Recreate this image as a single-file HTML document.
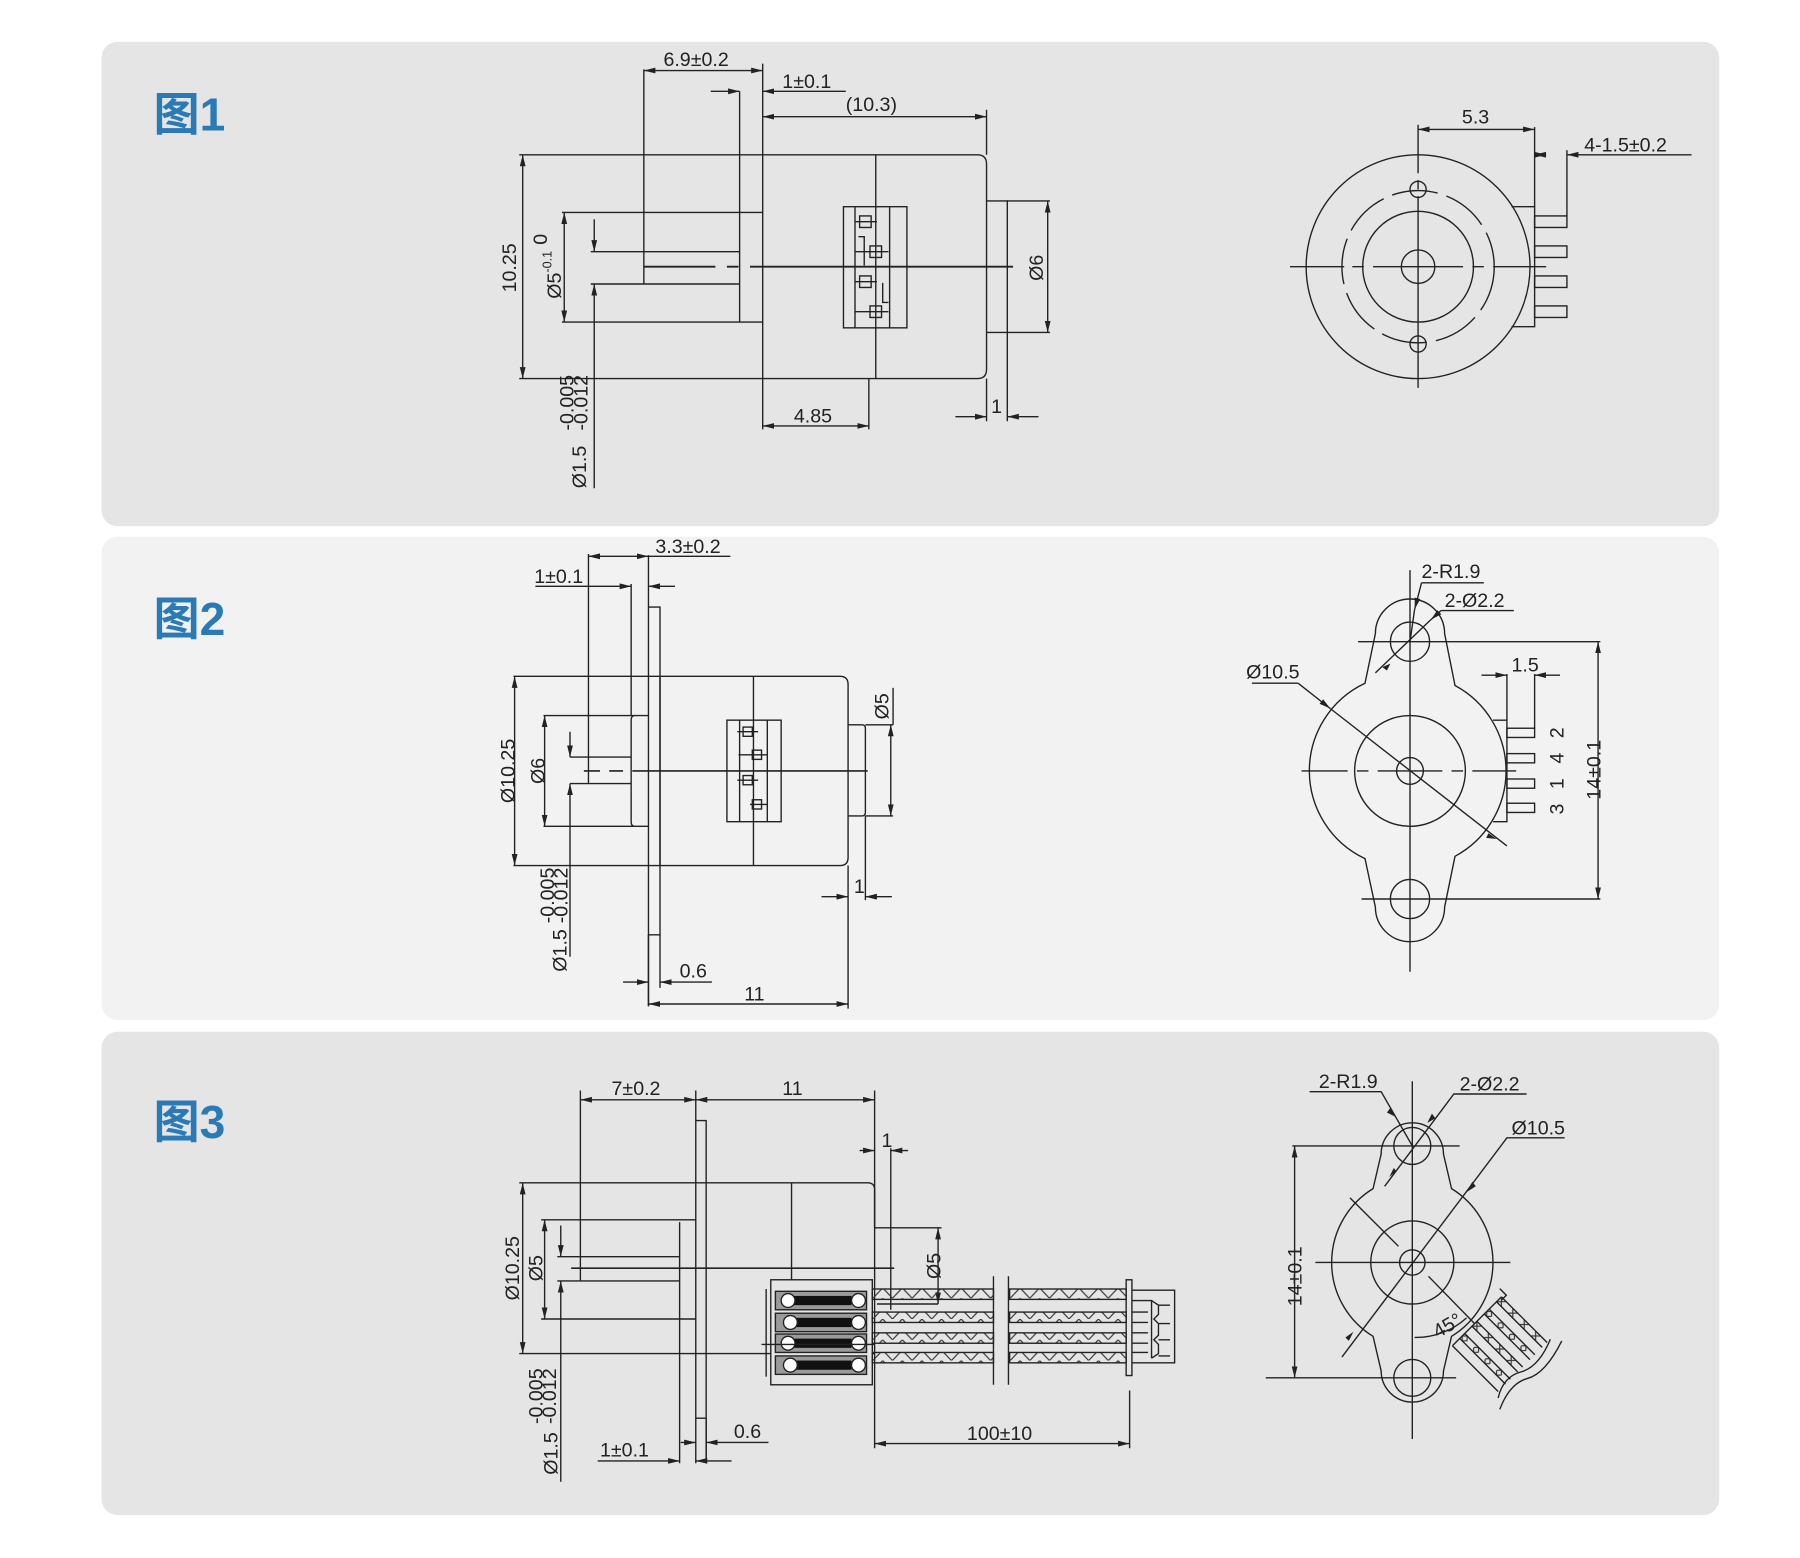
<!DOCTYPE html>
<html><head><meta charset="utf-8"><style>
html,body{margin:0;padding:0;background:#fff;}
svg{display:block;}
text{font-family:"Liberation Sans","Noto Sans CJK SC",sans-serif;fill:#222;font-size:17px;}
.b{font-family:"Liberation Sans","Noto Sans CJK SC",sans-serif;font-weight:bold;fill:#2a7ab8;font-size:40px;}
</style></head><body>
<svg width="1800" height="1558" viewBox="0 0 1560 1350" xmlns="http://www.w3.org/2000/svg">
<defs>
<marker id="a" markerWidth="10" markerHeight="6" refX="10" refY="3" orient="auto-start-reverse" markerUnits="userSpaceOnUse"><path d="M0,0.5 L10,3 L0,5.5 z" fill="#222"/></marker>
<pattern id="zz" width="17" height="9" patternUnits="userSpaceOnUse"><path d="M0,0 L8.5,9 L17,0" fill="none" stroke="#333" stroke-width="1"/></pattern>
<pattern id="zx" width="14" height="6" patternUnits="userSpaceOnUse"><path d="M0,0 L6,6 M0,6 L6,0" stroke="#333" stroke-width="1"/></pattern>
</defs>
<rect x="0" y="0" width="1560" height="1350" fill="#fff"/>
<rect x="88" y="36" width="1402" height="420" rx="14" fill="#e5e5e5"/>
<rect x="88" y="465" width="1402" height="419" rx="14" fill="#f2f2f2"/>
<rect x="88" y="894" width="1402" height="419" rx="14" fill="#e5e5e5"/>
<text class="b" x="133" y="113">图1</text>
<text class="b" x="133" y="550">图2</text>
<text class="b" x="133" y="986">图3</text>

<g stroke="#222" stroke-width="1.2" fill="none">
<!-- ===== FIG 1 side ===== -->
<path d="M450,134 H661 M450,328 H661"/>
<line x1="453" y1="134" x2="453" y2="328" marker-start="url(#a)" marker-end="url(#a)"/>
<path d="M487,184 H661 M487,279 H661"/>
<line x1="489" y1="184" x2="489" y2="279" marker-start="url(#a)" marker-end="url(#a)"/>
<path d="M512,218 H641 M512,246 H641"/>
<line x1="515" y1="190" x2="515" y2="218" marker-end="url(#a)"/>
<line x1="515" y1="423" x2="515" y2="246" marker-end="url(#a)"/>
<path d="M558,60 V246"/>
<path d="M641,79 V279"/>
<path d="M661,55 V372"/>
<path d="M661,134 H847 Q855,134 855,142 V320 Q855,328 847,328 H661"/>
<path d="M759,134 V328"/>
<rect x="731" y="179" width="55" height="105"/>
<path d="M741,179 V284 M771,179 V284"/>
<rect x="745" y="187" width="10" height="10"/><rect x="754" y="213" width="10" height="10"/>
<rect x="745" y="239" width="10" height="10"/><rect x="754" y="265" width="10" height="10"/>
<path d="M741,192 H760 M741,218 H770 M741,244 H760 M741,270 H770 M744,205 H749 V230 M765,245 V262 H770"/>
<path d="M855,174 H873 V288 H855"/>
<path d="M873,174 H910 M873,288 H910"/>
<line x1="908" y1="174" x2="908" y2="288" marker-start="url(#a)" marker-end="url(#a)"/>
<path d="M558,231 H620 M630,231 H640 M650,231 H878" stroke-width="1.6"/>
<line x1="558" y1="61" x2="661" y2="61" marker-start="url(#a)" marker-end="url(#a)"/>
<line x1="616" y1="79" x2="641" y2="79" marker-end="url(#a)"/>
<line x1="733" y1="79" x2="661" y2="79" marker-end="url(#a)"/>
<line x1="661" y1="101" x2="855" y2="101" marker-start="url(#a)" marker-end="url(#a)"/>
<path d="M855,95 V134"/>
<line x1="661" y1="369" x2="753" y2="369" marker-start="url(#a)" marker-end="url(#a)"/>
<path d="M753,328 V372"/>
<line x1="828" y1="361" x2="855" y2="361" marker-end="url(#a)"/>
<line x1="900" y1="361" x2="873" y2="361" marker-end="url(#a)"/>
<path d="M855,328 V365 M873,288 V365"/>

<!-- ===== FIG 1 front ===== -->
<circle cx="1229" cy="231" r="97"/>
<circle cx="1229" cy="231" r="66" stroke-dasharray="40 8"/>
<circle cx="1229" cy="231" r="48"/>
<circle cx="1229" cy="231" r="14.5"/>
<circle cx="1229" cy="164" r="7"/>
<circle cx="1229" cy="298" r="7"/>
<path d="M1118,231 H1165 M1172,231 H1182 M1190,231 H1268 M1276,231 H1286 M1294,231 H1340" />
<path d="M1229,108 V150 M1229,156 V164 M1229,170 V336"/>
<path d="M1310,179 H1330 V283 H1310"/>
<path d="M1330,110 V179"/>
<rect x="1330" y="187" width="28" height="10"/><rect x="1330" y="213" width="28" height="10"/>
<rect x="1330" y="239" width="28" height="10"/><rect x="1330" y="265" width="28" height="10"/>
<path d="M1358,130 V187"/>
<line x1="1229" y1="112" x2="1330" y2="112" marker-start="url(#a)" marker-end="url(#a)"/>
<line x1="1466" y1="134" x2="1358" y2="134" marker-end="url(#a)"/>
<line x1="1340" y1="134" x2="1330" y2="134" marker-start="url(#a)" marker-end="url(#a)" />

<!-- ===== FIG 2 side ===== -->
<path d="M445,586 H572 M445,750 H572"/>
<line x1="446" y1="586" x2="446" y2="750" marker-start="url(#a)" marker-end="url(#a)"/>
<path d="M471,620 H562 M471,716 H562"/>
<line x1="472" y1="620" x2="472" y2="716" marker-start="url(#a)" marker-end="url(#a)"/>
<path d="M494,656 H547 M494,679 H547"/>
<line x1="494" y1="634" x2="494" y2="656" marker-end="url(#a)"/>
<line x1="494" y1="829" x2="494" y2="679" marker-end="url(#a)"/>
<path d="M510,480 V679 M510,656 V679"/>
<path d="M550,620 Q547,620 547,624 V712 Q547,716 550,716 M547,506 V620"/>
<path d="M562,481 V872"/>
<path d="M562,526 H572 V810 H562 M562,810 V872"/>
<path d="M572,586 H728 Q735,586 735,593 V743 Q735,750 728,750 H572 Z"/>
<path d="M653,586 V750"/>
<rect x="630" y="624" width="47" height="88"/>
<path d="M641,624 V712 M665,624 V712"/>
<rect x="644" y="630" width="8" height="8"/><rect x="652" y="650" width="8" height="8"/>
<rect x="644" y="672" width="8" height="8"/><rect x="652" y="693" width="8" height="8"/>
<path d="M639,634 H657 M640,654 H665 M639,676 H657 M650,697 H665"/>
<path d="M735,628 H747 Q750,628 750,631 V704 Q750,707 747,707 H735"/>
<path d="M750,628 H774 M750,707 H774"/>
<line x1="772" y1="628" x2="772" y2="707" marker-start="url(#a)" marker-end="url(#a)"/>
<path d="M774,596 V628"/>
<path d="M506,668 H520 M528,668 H540 M548,668 H752" stroke-width="1.4"/>
<line x1="510" y1="482" x2="562" y2="482" marker-start="url(#a)" marker-end="url(#a)"/>
<path d="M562,482 H633"/>
<line x1="464" y1="508" x2="547" y2="508" marker-end="url(#a)"/>
<line x1="585" y1="508" x2="562" y2="508" marker-end="url(#a)"/>
<line x1="540" y1="851" x2="562" y2="851" marker-end="url(#a)"/>
<line x1="617" y1="851" x2="572" y2="851" marker-end="url(#a)"/>
<path d="M572,810 V856"/>
<line x1="562" y1="870" x2="735" y2="870" marker-start="url(#a)" marker-end="url(#a)"/>
<path d="M735,750 V874 M750,707 V780"/>
<line x1="712" y1="777" x2="735" y2="777" marker-end="url(#a)"/>
<line x1="773" y1="777" x2="750" y2="777" marker-end="url(#a)"/>

<!-- ===== FIG 2 front ===== -->
<path d="M1183,592 L1192,549 A30,30 0 1 1 1252,549 L1261,594 A84,84 0 0 1 1261,742 L1252,786 A30,30 0 1 1 1192,786 L1183,744 A84,84 0 0 1 1183,592 Z"/>
<circle cx="1222" cy="668" r="48"/>
<circle cx="1222" cy="668" r="11.6"/>
<circle cx="1222" cy="556" r="17"/>
<circle cx="1222" cy="779" r="17"/>
<path d="M1128,668 H1168 M1176,668 H1186 M1194,668 H1250 M1258,668 H1268 M1276,668 H1314"/>
<path d="M1222,494 V842"/>
<path d="M1177,556 H1387 M1180,779 H1387"/>
<line x1="1385" y1="556" x2="1385" y2="779" marker-start="url(#a)" marker-end="url(#a)"/>
<path d="M1294,624 H1306 V712 H1294"/>
<rect x="1306" y="631" width="24" height="8"/><rect x="1306" y="653" width="24" height="8"/>
<rect x="1306" y="675" width="24" height="8"/><rect x="1306" y="696" width="24" height="8"/>
<path d="M1306,584 V624 M1330,584 V631"/>
<line x1="1284" y1="585" x2="1306" y2="585" marker-end="url(#a)"/>
<line x1="1352" y1="585" x2="1330" y2="585" marker-end="url(#a)"/>
<path d="M1085,592 H1125"/>
<line x1="1125" y1="592" x2="1153" y2="614" marker-end="url(#a)"/>
<line x1="1153" y1="614" x2="1306" y2="733"/>
<path d="M1290,722 l7,5 l-9,-1" fill="#222" stroke="none"/>
<path d="M1232,505 H1286"/>
<line x1="1232" y1="505" x2="1226" y2="528" marker-end="url(#a)"/>
<line x1="1226" y1="528" x2="1222" y2="556"/>
<path d="M1249,529 H1312"/>
<line x1="1249" y1="529" x2="1240" y2="537" marker-end="url(#a)"/>
<line x1="1240" y1="537" x2="1192" y2="583"/>
<path d="M1198,578 l7,-3 l-3,6" fill="#222" stroke="none"/>

<!-- ===== FIG 3 side ===== -->
<line x1="503" y1="953" x2="603" y2="953" marker-start="url(#a)" marker-end="url(#a)"/>
<line x1="603" y1="953" x2="758" y2="953" marker-start="url(#a)" marker-end="url(#a)"/>
<path d="M503,945 V1110 M603,945 V1268 M758,945 V1064"/>
<path d="M603,971 H612 V1265 M603,1229 H612"/>
<path d="M450,1025 H612 M450,1173 H612"/>
<line x1="453" y1="1025" x2="453" y2="1173" marker-start="url(#a)" marker-end="url(#a)"/>
<path d="M469,1057 H603 M469,1143 H603"/>
<line x1="472" y1="1057" x2="472" y2="1143" marker-start="url(#a)" marker-end="url(#a)"/>
<path d="M589,1059 V1268"/>
<path d="M483,1089 H589 M483,1110 H589"/>
<line x1="486" y1="1062" x2="486" y2="1089" marker-end="url(#a)"/>
<line x1="486" y1="1284" x2="486" y2="1110" marker-end="url(#a)"/>
<path d="M612,1025 H752 Q758,1025 758,1031 V1173 H612"/>
<path d="M686,1025 V1110"/>
<path d="M758,1064 H772 V1135 M772,995 V1135 M772,1064 H816"/>
<line x1="813" y1="1064" x2="813" y2="1130" marker-start="url(#a)" marker-end="url(#a)"/>
<path d="M813,1130 H760"/>
<path d="M495,1099 H775" stroke-width="1.4"/>
<line x1="745" y1="997" x2="758" y2="997" marker-end="url(#a)"/>
<line x1="787" y1="997" x2="772" y2="997" marker-end="url(#a)"/>
<!-- terminal block -->
<rect x="668" y="1109" width="88" height="91" fill="#e5e5e5"/>
<path d="M664,1117 V1193"/>
<g stroke="#222">
<rect x="672" y="1119" width="79" height="16" fill="#9a9a9a"/>
<rect x="672" y="1138" width="79" height="16" fill="#9a9a9a"/>
<rect x="672" y="1156" width="79" height="16" fill="#9a9a9a"/>
<rect x="672" y="1175" width="79" height="16" fill="#9a9a9a"/>
</g>
<g fill="#111" stroke="none">
<rect x="686" y="1123" width="52" height="8"/><rect x="686" y="1142" width="52" height="8"/>
<rect x="686" y="1160" width="52" height="8"/><rect x="686" y="1179" width="52" height="8"/>
</g>
<g fill="#fff">
<circle cx="683" cy="1127" r="6"/><circle cx="744" cy="1127" r="6"/>
<circle cx="685" cy="1146" r="6"/><circle cx="744" cy="1146" r="6"/>
<circle cx="683" cy="1164" r="6"/><circle cx="744" cy="1164" r="6"/>
<circle cx="685" cy="1183" r="6"/><circle cx="744" cy="1183" r="6"/>
</g>
<path d="M660,1165 H758"/>
<!-- wires -->
<g>
<rect x="756" y="1117" width="105" height="9" fill="url(#zz)"/>
<rect x="756" y="1137" width="105" height="9" fill="url(#zz)"/>
<rect x="756" y="1155" width="105" height="9" fill="url(#zz)"/>
<rect x="756" y="1172" width="105" height="9" fill="url(#zz)"/>
<rect x="875" y="1117" width="101" height="9" fill="url(#zz)"/>
<rect x="875" y="1137" width="101" height="9" fill="url(#zz)"/>
<rect x="875" y="1155" width="101" height="9" fill="url(#zz)"/>
<rect x="875" y="1172" width="101" height="9" fill="url(#zz)"/>
</g>
<path d="M861,1106 V1200 M874,1106 V1200"/>
<rect x="976" y="1109" width="5" height="83"/>
<path d="M981,1118 H1018 V1181 H981 M981,1127 H998 V1177 M981,1137 H995 M981,1146 H995 M981,1155 H995 M981,1164 H995 M981,1172 H995 M998,1127 l6,4 v8 l-4,4 l4,4 v10 l-4,4 l4,4 v8 l-6,4"/>
<path d="M1004,1131 H1014 M1004,1147 H1014 M1004,1161 H1014 M1004,1175 H1014"/>
<path d="M758,1173 V1255 M979,1205 V1255"/>
<line x1="758" y1="1251" x2="979" y2="1251" marker-start="url(#a)" marker-end="url(#a)"/>
<line x1="590" y1="1250" x2="603" y2="1250" marker-end="url(#a)"/>
<line x1="666" y1="1250" x2="612" y2="1250" marker-end="url(#a)"/>
<path d="M612,1229 V1268"/>
<line x1="518" y1="1266" x2="589" y2="1266" marker-end="url(#a)"/>
<line x1="634" y1="1266" x2="603" y2="1266" marker-end="url(#a)"/>

<!-- ===== FIG 3 front ===== -->
<path d="M1190,1030 L1197,1000 A27,27 0 1 1 1251,1000 L1258,1030 A75,75 0 0 1 1258,1158 L1251,1188 A27,27 0 1 1 1197,1188 L1190,1158 A75,75 0 0 1 1190,1030 Z"/>
<circle cx="1224" cy="1094" r="36"/>
<circle cx="1224" cy="1094" r="11"/>
<circle cx="1224" cy="993" r="16"/>
<circle cx="1224" cy="1194" r="16"/>
<path d="M1140,1094 H1309 M1224,937 V1247 M1185,993 H1265 M1120,993 H1185 M1097,1194 H1262"/>
<line x1="1122" y1="993" x2="1122" y2="1194" marker-start="url(#a)" marker-end="url(#a)"/>
<path d="M1135,946 H1197 L1224,993"/>
<path d="M1205,960 l5,8 l-8,-4" fill="#222" stroke="none"/>
<path d="M1323,948 H1260 L1200,1028"/>
<path d="M1241,965 l-4,8 l7,-4 z M1210,1015 l-6,5 l4,-8 z" fill="#222" stroke="none"/>
<path d="M1356,986 H1306 L1163,1176"/>
<path d="M1276,1024 l-5,9 l8,-5 z M1169,1162 l4,-8 l-7,5 z" fill="#222" stroke="none"/>
<path d="M1170,1038 L1212,1080 M1238,1106 L1278,1147"/>
<path d="M1226,1159 A65,65 0 0 0 1271,1142"/>
<!-- wire bundle -->
<g transform="translate(1280,1145) rotate(45)">
<rect x="0" y="-30" width="56" height="60" fill="#e5e5e5" stroke="none"/>
<rect x="0" y="-30" width="56" height="6" fill="url(#zx)" stroke="none"/>
<rect x="0" y="-15" width="56" height="6" fill="url(#zx)" stroke="none"/>
<rect x="0" y="0" width="56" height="6" fill="url(#zx)" stroke="none"/>
<rect x="0" y="15" width="56" height="6" fill="url(#zx)" stroke="none"/>
<path d="M0,-30 V30 M0,-30 H56 M0,-24 H56 M0,-15 H56 M0,-9 H56 M0,0 H56 M0,6 H56 M0,15 H56 M0,21 H56 M0,30 H56"/>
<path d="M-6,-34 L2,-34 L2,-28"/>
<path d="M56,-34 Q66,-10 58,4 Q50,18 60,34 M64,-40 Q74,-10 66,4 Q58,18 68,40"/>
</g>
</g>

<!-- ===== TEXT ===== -->
<text x="575" y="57">6.9±0.2</text>
<text x="678" y="76">1±0.1</text>
<text x="733" y="96">(10.3)</text>
<text x="688" y="366">4.85</text>
<text x="859" y="358">1</text>
<text x="1267" y="107">5.3</text>
<text x="1373" y="131">4-1.5±0.2</text>
<text transform="translate(447,232) rotate(-90)" text-anchor="middle">10.25</text>
<text transform="translate(486,238) rotate(-90)" text-anchor="middle">Ø5<tspan font-size="11" dy="-8">-0.1</tspan></text>
<text transform="translate(474,212) rotate(-90)" font-size="11">0</text>
<text transform="translate(904,232) rotate(-90)" text-anchor="middle">Ø6</text>
<text transform="translate(508,423) rotate(-90)">Ø1.5</text>
<text transform="translate(497,373) rotate(-90)" font-size="11">-0.005</text>
<text transform="translate(509,373) rotate(-90)" font-size="11">-0.012</text>

<text x="568" y="479">3.3±0.2</text>
<text x="463" y="505">1±0.1</text>
<text x="589" y="847">0.6</text>
<text x="645" y="867">11</text>
<text x="740" y="774">1</text>
<text transform="translate(446,668) rotate(-90)" text-anchor="middle">Ø10.25</text>
<text transform="translate(472,668) rotate(-90)" text-anchor="middle">Ø6</text>
<text transform="translate(770,612) rotate(-90)" text-anchor="middle">Ø5</text>
<text transform="translate(491,842) rotate(-90)">Ø1.5</text>
<text transform="translate(480,800) rotate(-90)" font-size="11">-0.005</text>
<text transform="translate(492,800) rotate(-90)" font-size="11">-0.012</text>

<text x="1232" y="501">2-R1.9</text>
<text x="1252" y="526">2-Ø2.2</text>
<text x="1080" y="588">Ø10.5</text>
<text x="1310" y="582">1.5</text>
<text transform="translate(1355,635) rotate(-90)" text-anchor="middle">2</text>
<text transform="translate(1355,657) rotate(-90)" text-anchor="middle">4</text>
<text transform="translate(1355,679) rotate(-90)" text-anchor="middle">1</text>
<text transform="translate(1355,701) rotate(-90)" text-anchor="middle">3</text>
<text transform="translate(1387,667) rotate(-90)" text-anchor="middle">14±0.1</text>

<text x="530" y="949">7±0.2</text>
<text x="678" y="949">11</text>
<text x="764" y="994">1</text>
<text x="838" y="1248">100±10</text>
<text x="636" y="1246">0.6</text>
<text x="520" y="1262">1±0.1</text>
<text transform="translate(450,1099) rotate(-90)" text-anchor="middle">Ø10.25</text>
<text transform="translate(470,1099) rotate(-90)" text-anchor="middle">Ø5</text>
<text transform="translate(815,1097) rotate(-90)" text-anchor="middle">Ø5</text>
<text transform="translate(483,1278) rotate(-90)">Ø1.5</text>
<text transform="translate(470,1234) rotate(-90)" font-size="11">-0.005</text>
<text transform="translate(482,1234) rotate(-90)" font-size="11">-0.012</text>

<text x="1143" y="943">2-R1.9</text>
<text x="1265" y="945">2-Ø2.2</text>
<text x="1310" y="983">Ø10.5</text>
<text transform="translate(1128,1106) rotate(-90)" text-anchor="middle">14±0.1</text>
<text transform="translate(1246,1160) rotate(-30)" font-size="16">45°</text>
</svg>
</body></html>
